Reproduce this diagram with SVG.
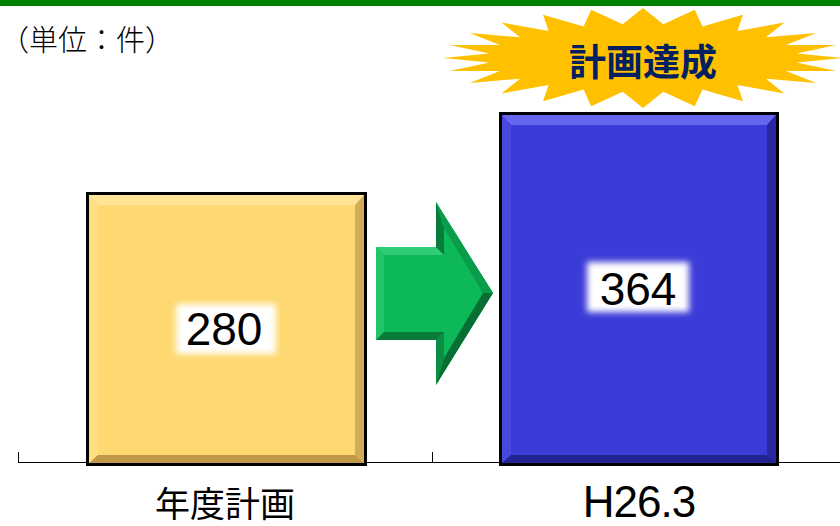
<svg xmlns="http://www.w3.org/2000/svg" width="840" height="526" viewBox="0 0 840 526">
<defs>
<style>
.jp{font-family:"Noto Sans CJK JP","Noto Sans",sans-serif}
.num{font-family:"Liberation Sans",Arial,sans-serif;font-size:46px;fill:#000;text-anchor:middle}
.axis{stroke:#000;stroke-width:1;fill:none}
</style>
<filter id="soft" x="-20%" y="-30%" width="140%" height="160%">
<feGaussianBlur stdDeviation="3"/>
</filter>
</defs>
<rect x="0" y="0" width="840" height="526" fill="#fff"/>
<g id="header">
<rect x="0" y="0" width="840" height="6" fill="#008000"/>
</g>
<g id="unit-label">
<text x="0" y="51" class="jp" font-size="29" font-weight="300" fill="#000">（単位：件）</text>
</g>
<g id="axis">
<line class="axis" x1="18" y1="462.5" x2="840" y2="462.5"/>
<line class="axis" x1="18.5" y1="452" x2="18.5" y2="462"/>
<line class="axis" x1="432.5" y1="452" x2="432.5" y2="462"/>
</g>
<g id="burst">
<polygon fill="#FFC000" points="843,58 796.6,62.5 836.2,70.9 786.2,71 816.2,83 765.9,78.7 784.4,93.4 737.4,85 743,101.3 702.4,89.4 694.8,106.3 663.3,91.7 643,108 622.7,91.7 591.2,106.3 583.6,89.4 543,101.3 548.6,85 501.6,93.4 520.1,78.7 469.8,83 499.8,71 449.8,70.9 489.4,62.5 443,58 489.4,53.5 449.8,45.1 499.8,45 469.8,33 520.1,37.3 501.6,22.6 548.6,31 543,14.7 583.6,26.6 591.2,9.7 622.7,24.3 643,8 663.3,24.3 694.8,9.7 702.4,26.6 743,14.7 737.4,31 784.4,22.6 765.9,37.3 816.2,33 786.2,45 836.2,45.1 796.6,53.5"/>
<text x="643" y="76" class="jp" font-size="37" font-weight="bold" fill="#002060" text-anchor="middle">計画達成</text>
</g>
<g id="bar-plan">
<rect x="87.5" y="193.5" width="278" height="271" fill="#FED870" stroke="#000" stroke-width="3"/>
<polygon points="89,195 364,195 355,205 98,205" fill="#FFE594"/>
<polygon points="89,195 98,205 98,455 89,463" fill="#FFDE84"/>
<polygon points="364,195 364,463 355,455 355,205" fill="#D2AC58"/>
<polygon points="89,463 98,455 355,455 364,463" fill="#C09A48"/>
<rect x="176" y="304" width="100" height="50" fill="#fff" filter="url(#soft)"/>
<text x="224" y="345" class="num">280</text>
</g>
<g id="bar-actual">
<rect x="500.5" y="113.5" width="277" height="351" fill="#3B3BD8" stroke="#000" stroke-width="3"/>
<polygon points="502,115 776,115 767,125 511,125" fill="#6666EE"/>
<polygon points="502,115 511,125 511,455 502,463" fill="#4848E0"/>
<polygon points="776,115 776,463 767,455 767,125" fill="#2828A2"/>
<polygon points="502,463 511,455 767,455 776,463" fill="#222290"/>
<rect x="587" y="262" width="102" height="50" fill="#fff" filter="url(#soft)"/>
<text x="638" y="305" class="num">364</text>
</g>
<g id="connectors">
<polygon points="376,247 436,247 436,202 493,293 436,385 436,340 376,340" fill="#0DB858"/>
<polygon points="376,247 436,247 444,255 384,255" fill="#2ECC74"/>
<polygon points="376,247 384,255 384,332 376,340" fill="#22C46A"/>
<polygon points="436,247 436,202 444,228 444,255" fill="#087C3A"/>
<polygon points="436,202 493,293 483,293 444,228" fill="#0A9C4A"/>
<polygon points="493,293 436,385 444,358 483,293" fill="#076E34"/>
<polygon points="436,385 436,340 444,332 444,358" fill="#0A8E44"/>
<polygon points="376,340 384,332 444,332 436,340" fill="#087A3A"/>
</g>
<g id="category-labels">
<text x="225" y="517" class="jp" font-size="35" fill="#000" text-anchor="middle">年度計画</text>
<text x="639" y="517" font-family="Liberation Sans, Arial, sans-serif" font-size="44" fill="#000" text-anchor="middle" letter-spacing="-1">H26.3</text>
</g>
</svg>
